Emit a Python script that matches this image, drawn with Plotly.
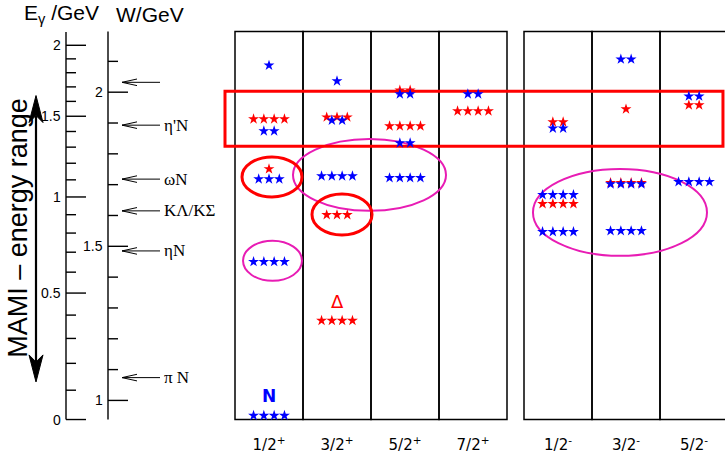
import math
import plotly.graph_objects as go

M_N = 0.938  # nucleon mass (GeV): W = sqrt(M^2 + 2 M E_gamma)

# ---------------- data ----------------
POS_COLS = ["1/2+", "3/2+", "5/2+", "7/2+"]
NEG_COLS = ["1/2-", "3/2-", "5/2-"]
COL_TEXT = ["1/2<sup>+</sup>", "3/2<sup>+</sup>", "5/2<sup>+</sup>", "7/2<sup>+</sup>",
            "1/2<sup>-</sup>", "3/2<sup>-</sup>", "5/2<sup>-</sup>"]

# Delta resonances (red): column, W (GeV), number of stars
DELTA_COL = ["1/2+", "1/2+", "3/2+", "3/2+", "3/2+", "5/2+", "5/2+", "7/2+",
             "1/2-", "1/2-", "3/2-", "3/2-", "5/2-"]
DELTA_W = [1.913, 1.751, 1.919, 1.602, 1.259, 2.006, 1.890, 1.939,
           1.903, 1.638, 1.945, 1.706, 1.958]
DELTA_STARS = [4, 1, 3, 3, 4, 2, 4, 4, 2, 4, 1, 4, 2]

# Nucleon resonances (blue)
N_COL = ["1/2+", "1/2+", "1/2+", "1/2+", "1/2+",
         "3/2+", "3/2+", "3/2+",
         "5/2+", "5/2+", "5/2+",
         "7/2+",
         "1/2-", "1/2-", "1/2-",
         "3/2-", "3/2-", "3/2-",
         "5/2-", "5/2-"]
N_W = [2.087, 1.874, 1.718, 1.450, 0.951,
       2.036, 1.909, 1.728,
       1.994, 1.835, 1.722,
       1.994,
       1.883, 1.667, 1.547,
       2.107, 1.702, 1.550,
       1.987, 1.709]
N_STARS = [1, 2, 3, 4, 4,
           1, 2, 4,
           2, 2, 4,
           2,
           2, 4, 4,
           2, 4, 4,
           2, 4]

# thresholds (W, GeV)
THRESH_W = [2.032, 1.893, 1.718, 1.615, 1.485, 1.074]
THRESH_LABEL = ["", "η'N", "ωN", "KΛ/KΣ", "ηN", "π N"]

# left scales
EG_TICKS = [0.0, 0.1, 0.2, 0.3, 0.4, 0.5, 0.6, 0.7, 0.8, 0.9, 1.0,
            1.1, 1.2, 1.3, 1.4, 1.5, 1.6, 1.7, 1.8, 1.9, 2.0]
EG_MAJOR = [0.0, 0.5, 1.0, 1.5, 2.0]
EG_LABELS = ["0", "0.5", "1", "1.5", "2"]
EG_AXIS_END = 2.1
W_TICKS = [1.0, 1.1, 1.2, 1.3, 1.4, 1.5, 1.6, 1.7, 1.8, 1.9, 2.0, 2.1]
W_MAJOR = [1.0, 1.5, 2.0]
W_LABELS = ["1", "1.5", "2"]
W_TOP = 2.197

MAMI_EG = [0.13, 1.64]

# highlight shapes (x in column units, y in W)
RED_RECT = [(-0.147, 7.176, 1.825, 2.003)]
RED_ELLIPSES = [(0.103, 0.985, 1.660, 1.790), (1.132, 2.015, 1.537, 1.670)]
PINK_ELLIPSES = [(0.853, 3.103, 1.615, 1.848), (0.118, 0.985, 1.388, 1.518),
                 (4.382, 6.941, 1.469, 1.751)]

# ---------------- layout constants ----------------
W_PX = 725
H_PX = 455
M_TOP, M_BOT = 29, 33
Y_RANGE = [0.930, 2.205]
PX_PER_W = (H_PX - M_TOP - M_BOT) / (Y_RANGE[1] - Y_RANGE[0])
COL_PX = 68.0
MAIN_LEFT = 220
GAP = 0.25
STAR_PITCH = 10.3 / COL_PX

RED = "#ff0000"
BLUE = "#0000ff"
PINK = "#e81cb4"


def eg_to_w(e):
    return math.sqrt(M_N ** 2 + 2 * M_N * e)


def col_x(c):
    if c in POS_COLS:
        return POS_COLS.index(c) + 0.5
    return len(POS_COLS) + GAP + NEG_COLS.index(c) + 0.5


def star_points(cols, ws, ns):
    xs, ys = [], []
    for c, w, n in zip(cols, ws, ns):
        for k in range(n):
            xs.append(col_x(c) + (k - (n - 1) / 2) * STAR_PITCH)
            ys.append(w)
    return xs, ys


fig = go.Figure()

# ---------------- stars ----------------
dx, dy = star_points(DELTA_COL, DELTA_W, DELTA_STARS)
fig.add_trace(go.Scatter(x=dx, y=dy, mode="markers", xaxis="x", yaxis="y",
                         marker=dict(symbol="star", size=8.2, color=RED, line=dict(width=0)),
                         hoverinfo="skip", cliponaxis=False))
nx, ny = star_points(N_COL, N_W, N_STARS)
fig.add_trace(go.Scatter(x=nx, y=ny, mode="markers", xaxis="x", yaxis="y",
                         marker=dict(symbol="star", size=8.2, color=BLUE, line=dict(width=0)),
                         hoverinfo="skip", cliponaxis=False))

# ---------------- left scales (x2 in pixel units) ----------------
EG_X, W_X = 66, 108
MAJ, MIN = 20, 10


def seg_trace(xs, ys, width=1.3, color="black"):
    return go.Scatter(x=xs, y=ys, mode="lines", xaxis="x2", yaxis="y",
                      line=dict(color=color, width=width), hoverinfo="skip",
                      cliponaxis=False)


xs, ys = [EG_X, EG_X, None], [eg_to_w(0), eg_to_w(EG_AXIS_END), None]
for e in EG_TICKS:
    L = MAJ if e in EG_MAJOR else MIN
    xs += [EG_X, EG_X + L, None]
    ys += [eg_to_w(e), eg_to_w(e), None]
xs += [W_X, W_X, None]
ys += [M_N, W_TOP, None]
for w in W_TICKS:
    L = MAJ if w in W_MAJOR else MIN
    xs += [W_X, W_X + L, None]
    ys += [w, w, None]
fig.add_trace(seg_trace(xs, ys, 1.4))

# threshold arrows
ARR_TIP, ARR_TAIL, BARB_L, BARB_H = 122, 160, 15, 3.3 / PX_PER_W
xs, ys = [], []
for w in THRESH_W:
    xs += [ARR_TAIL, ARR_TIP, None, ARR_TIP + BARB_L, ARR_TIP, ARR_TIP + BARB_L, None]
    ys += [w, w, None, w + BARB_H, w, w - BARB_H, None]
fig.add_trace(seg_trace(xs, ys, 1.0))

annotations = []
for e, lab in zip(EG_MAJOR, EG_LABELS):
    annotations.append(dict(x=EG_X - 3, y=eg_to_w(e), xref="x2", yref="y", text=lab,
                            showarrow=False, xanchor="right", yanchor="middle",
                            font=dict(family="Liberation Sans", size=14, color="black")))
for w, lab in zip(W_MAJOR, W_LABELS):
    annotations.append(dict(x=W_X - 3, y=w, xref="x2", yref="y", text=lab,
                            showarrow=False, xanchor="right", yanchor="middle",
                            font=dict(family="Liberation Sans", size=14, color="black")))
for w, lab in zip(THRESH_W, THRESH_LABEL):
    if lab:
        annotations.append(dict(x=162, y=w, xref="x2", yref="y", text=lab,
                                showarrow=False, xanchor="left", yanchor="middle",
                                font=dict(family="Liberation Serif", size=17, color="black")))

# headers
HEAD_Y = 1.0 + (M_TOP - 14) / (H_PX - M_TOP - M_BOT)
annotations.append(dict(x=101, y=HEAD_Y, xref="x2", yref="paper",
                        text="E<sub>γ</sub> /GeV", showarrow=False, xanchor="right",
                        yanchor="middle",
                        font=dict(family="Liberation Sans", size=21, color="black")))
annotations.append(dict(x=114, y=HEAD_Y, xref="x2", yref="paper",
                        text="W/GeV", showarrow=False, xanchor="left", yanchor="middle",
                        font=dict(family="Liberation Sans", size=21, color="black")))

# MAMI arrow
MAMI_X = 36
w_lo, w_hi = eg_to_w(MAMI_EG[0]), eg_to_w(MAMI_EG[1])
HEAD_L, HEAD_N, HEAD_HW = 27 / PX_PER_W, 20 / PX_PER_W, 7
fig.add_trace(seg_trace([MAMI_X, MAMI_X], [w_lo + HEAD_N, w_hi - HEAD_N], 2.2))
shapes = []
for tip, sgn in ((w_hi, -1), (w_lo, 1)):
    path = (f"M {MAMI_X},{tip} L {MAMI_X - HEAD_HW},{tip + sgn * HEAD_L} "
            f"L {MAMI_X},{tip + sgn * HEAD_N} L {MAMI_X + HEAD_HW},{tip + sgn * HEAD_L} Z")
    shapes.append(dict(type="path", path=path, xref="x2", yref="y",
                       fillcolor="black", line=dict(color="black", width=1)))
annotations.append(dict(x=18, y=1.560, xref="x2", yref="y", text="MAMI – energy range",
                        textangle=-90, showarrow=False, xanchor="center", yanchor="middle",
                        font=dict(family="Liberation Sans", size=27, color="black")))

# ---------------- main panel frames ----------------
col_edges = [(i, i + 1) for i in range(len(POS_COLS))]
col_edges += [(len(POS_COLS) + GAP + j, len(POS_COLS) + GAP + j + 1) for j in range(len(NEG_COLS))]
for x0, x1 in col_edges:
    shapes.append(dict(type="rect", x0=x0, x1=x1, y0=M_N, y1=W_TOP, xref="x", yref="y",
                       line=dict(color="black", width=1.5), layer="below"))
for x0, x1, y0, y1 in PINK_ELLIPSES:
    shapes.append(dict(type="circle", x0=x0, x1=x1, y0=y0, y1=y1, xref="x", yref="y",
                       line=dict(color=PINK, width=2), layer="below"))
for x0, x1, y0, y1 in RED_ELLIPSES:
    shapes.append(dict(type="circle", x0=x0, x1=x1, y0=y0, y1=y1, xref="x", yref="y",
                       line=dict(color=RED, width=3), layer="below"))
for x0, x1, y0, y1 in RED_RECT:
    shapes.append(dict(type="rect", x0=x0, x1=x1, y0=y0, y1=y1, xref="x", yref="y",
                       line=dict(color=RED, width=3), layer="below"))

# N and Delta labels
annotations.append(dict(x=col_x("1/2+"), y=1.013, xref="x", yref="y", text="<b>N</b>",
                        showarrow=False, font=dict(family="DejaVu Sans", size=17, color=BLUE)))
annotations.append(dict(x=col_x("3/2+"), y=1.320, xref="x", yref="y", text="Δ",
                        showarrow=False, font=dict(family="DejaVu Sans", size=18, color=RED)))

all_cols = POS_COLS + NEG_COLS
fig.update_layout(
    width=W_PX, height=H_PX,
    margin=dict(l=0, r=0, t=M_TOP, b=M_BOT, pad=0, autoexpand=False),
    paper_bgcolor="white", plot_bgcolor="white",
    showlegend=False,
    xaxis=dict(domain=[MAIN_LEFT / W_PX, 1.0],
               range=[(MAIN_LEFT - 235) / COL_PX, (W_PX - 235) / COL_PX],
               showgrid=False, zeroline=False, showline=False, ticks="",
               tickvals=[col_x(c) for c in all_cols], ticktext=COL_TEXT,
               tickfont=dict(family="DejaVu Sans", size=15, color="black"),
               ticklabelstandoff=12, automargin=False, fixedrange=True),
    xaxis2=dict(domain=[0, MAIN_LEFT / W_PX], range=[0, MAIN_LEFT], anchor="y",
                visible=False, automargin=False, fixedrange=True),
    yaxis=dict(range=Y_RANGE, visible=False, showgrid=False, zeroline=False,
               automargin=False, fixedrange=True),
    shapes=shapes,
    annotations=annotations,
)

fig.write_html("out.html", config={"displayModeBar": False},
               post_script="document.body.style.margin='0';document.body.style.overflow='hidden';")
